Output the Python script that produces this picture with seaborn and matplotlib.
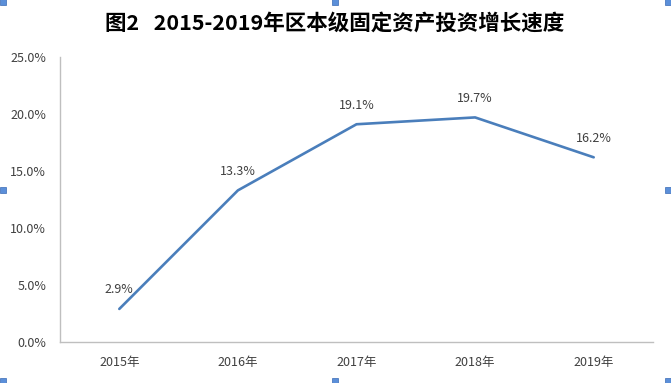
import matplotlib
matplotlib.use("Agg")
import matplotlib.pyplot as plt
import seaborn as sns
import pandas as pd
from matplotlib.patches import Rectangle
from matplotlib.ticker import FuncFormatter

years = ["2015年", "2016年", "2017年", "2018年", "2019年"]
growth = [2.9, 13.3, 19.1, 19.7, 16.2]
title = "图2   2015-2019年区本级固定资产投资增长速度"

sns.set_theme(style="white")
plt.rcParams['font.family'] = ['Noto Sans CJK SC', 'DejaVu Sans']

df = pd.DataFrame({"year": years, "growth": growth})

fig = plt.figure(figsize=(6.71, 3.83), dpi=100)
W, H = 671, 383
ax = fig.add_axes([60 / W, (H - 342) / H, (653 - 60) / W, (342 - 57) / H])

sns.lineplot(data=df, x="year", y="growth", ax=ax, color="#4A7EBB", linewidth=1.9, sort=False)

ax.set_xlim(-0.5, 4.5)
ax.set_ylim(0, 25)
ax.set_yticks([0, 5, 10, 15, 20, 25])
ax.yaxis.set_major_formatter(FuncFormatter(lambda v, p: f"{v:.1f}%"))
ax.set_xlabel("")
ax.set_ylabel("")
ax.tick_params(axis="both", labelsize=9, colors="#404040", length=0)
ax.tick_params(axis="y", pad=10)
ax.tick_params(axis="x", pad=10)
for s in ["top", "right"]:
    ax.spines[s].set_visible(False)
for s in ["left", "bottom"]:
    ax.spines[s].set_color("#BFBFBF")
    ax.spines[s].set_linewidth(1.0)
ax.grid(False)

for i, v in enumerate(growth):
    ax.annotate(f"{v:.1f}%", (i, v), xytext=(0, 9), textcoords="offset points",
                ha="center", va="bottom", fontsize=9, color="#404040")

fig.text(335 / W, 1 - 23 / H, title, ha="center", va="center", fontsize=15.5,
         fontweight="bold", color="#000000")

# selection handles
for (hx, hy) in [(3, 2), (335, 2), (668, 2), (3, 190), (668, 190), (3, 381), (335, 381), (668, 381)]:
    fig.patches.append(Rectangle(((hx - 3) / W, 1 - (hy + 3) / H), 6 / W, 6 / H,
                                 transform=fig.transFigure, facecolor="#5B8FD9",
                                 edgecolor="#3A6BB5", linewidth=0.5))

fig.savefig("out.png", dpi=100)
